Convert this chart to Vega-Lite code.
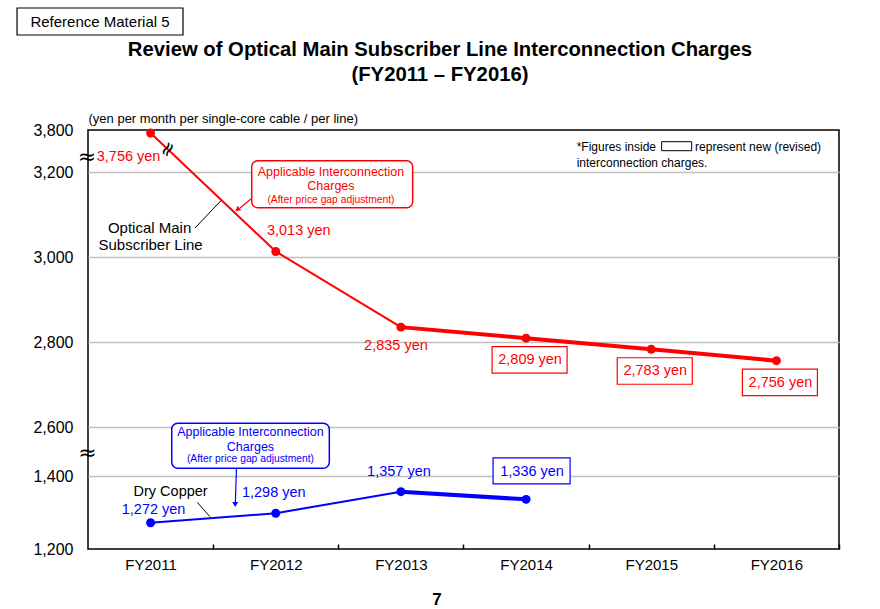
{
  "$schema": "https://vega.github.io/schema/vega-lite/v6.json",
  "width": 751,
  "height": 419,
  "autosize": {"type": "none"},
  "padding": {"left": 88, "top": 130, "right": 41, "bottom": 60},
  "background": "white",
  "config": {"font": "Liberation Sans", "view": {"stroke": "black", "strokeWidth": 1.5}},
  "datasets": {
    "charges": [
      {"series": "Optical Main Subscriber Line", "fy": 2011, "value": 3756, "label": "3,756 yen"},
      {"series": "Optical Main Subscriber Line", "fy": 2012, "value": 3013, "label": "3,013 yen"},
      {"series": "Optical Main Subscriber Line", "fy": 2013, "value": 2835, "label": "2,835 yen"},
      {"series": "Optical Main Subscriber Line", "fy": 2014, "value": 2809, "label": "2,809 yen"},
      {"series": "Optical Main Subscriber Line", "fy": 2015, "value": 2783, "label": "2,783 yen"},
      {"series": "Optical Main Subscriber Line", "fy": 2016, "value": 2756, "label": "2,756 yen"},
      {"series": "Dry Copper", "fy": 2011, "value": 1272, "label": "1,272 yen"},
      {"series": "Dry Copper", "fy": 2012, "value": 1298, "label": "1,298 yen"},
      {"series": "Dry Copper", "fy": 2013, "value": 1357, "label": "1,357 yen"},
      {"series": "Dry Copper", "fy": 2014, "value": 1336, "label": "1,336 yen"}
    ]
  },
  "layer": [
    {
      "data": {"name": "charges"},
      "transform": [{"filter": "datum.fy <= 2013"}],
      "mark": {"type": "line", "strokeWidth": 2},
      "encoding": {
        "x": {
          "field": "fy", "type": "quantitative",
          "scale": {"domain": [2010.5, 2016.5], "nice": false, "zero": false},
          "axis": {
            "values": [2011, 2012, 2013, 2014, 2015, 2016],
            "labelExpr": "'FY' + datum.value",
            "title": null, "tickOffset": 62.58, "labelOffset": -62.58,
            "ticks": true, "tickSize": -5, "tickColor": "black", "tickWidth": 1.5,
            "labelFontSize": 15, "labelColor": "black", "labelPadding": 13,
            "domain": false, "grid": false, "labelFlush": false, "labelOverlap": false, "labelBound": false
          }
        },
        "y": {
          "field": "value", "type": "quantitative",
          "scale": {"type": "linear", "domain": [1200, 1400, 2600, 3200, 3800], "range": [419, 346, 297, 42, 0], "nice": false, "zero": false},
          "axis": {
            "values": [1200, 1400, 2600, 2800, 3000, 3200, 3800],
            "format": ",.0f",
            "title": "(yen per month per single-core cable / per line)",
            "titleAngle": 0, "titleAlign": "left", "titleBaseline": "middle", "titleX": 0, "titleY": -12,
            "titleFontSize": 13, "titleFontWeight": "normal", "titleColor": "black",
            "labelFontSize": 16, "labelColor": "black", "labelPadding": 15, "labelOverlap": false,
            "ticks": false, "domain": false,
            "grid": true, "gridColor": "#c0c0c0", "gridWidth": 1.5,
            "gridOpacity": {"condition": {"test": "datum.value == 1200 || datum.value == 3800", "value": 0}, "value": 1}
          }
        },
        "color": {"field": "series", "type": "nominal", "scale": {"domain": ["Optical Main Subscriber Line", "Dry Copper"], "range": ["#ff0000", "#0000ff"]}, "legend": null}
      }
    },
    {
      "data": {"name": "charges"},
      "transform": [{"filter": "datum.fy >= 2013"}],
      "mark": {"type": "line", "strokeWidth": 4},
      "encoding": {
        "x": {"field": "fy", "type": "quantitative"},
        "y": {"field": "value", "type": "quantitative"},
        "color": {"field": "series", "type": "nominal", "legend": null}
      }
    },
    {
      "data": {"name": "charges"},
      "mark": {"type": "circle", "size": 80, "opacity": 1},
      "encoding": {
        "x": {"field": "fy", "type": "quantitative"},
        "y": {"field": "value", "type": "quantitative"},
        "color": {"field": "series", "type": "nominal", "legend": null}
      }
    },
    {
      "data": {"name": "charges"},
      "transform": [{"filter": "datum.series == 'Optical Main Subscriber Line' && datum.fy >= 2014"}],
      "mark": {"type": "point", "shape": "M-0.68,0.17H0.82V0.70H-0.68Z", "size": 10000, "fill": "white", "fillOpacity": 1, "stroke": "#ff0000", "strokeWidth": 1.2, "opacity": 1},
      "encoding": {"x": {"field": "fy", "type": "quantitative"}, "y": {"field": "value", "type": "quantitative"}}
    },
    {
      "data": {"name": "charges"},
      "transform": [{"filter": "datum.series == 'Dry Copper' && datum.fy == 2014"}],
      "mark": {"type": "point", "shape": "M-0.66,-0.83H0.88V-0.31H-0.66Z", "size": 10000, "fill": "white", "fillOpacity": 1, "stroke": "#0000ff", "strokeWidth": 1.2, "opacity": 1},
      "encoding": {"x": {"field": "fy", "type": "quantitative"}, "y": {"field": "value", "type": "quantitative"}}
    },
    {
      "data": {"name": "charges"},
      "transform": [{"filter": "datum.series == 'Optical Main Subscriber Line' && datum.fy == 2011"}],
      "mark": {"type": "text", "fontSize": 14.5, "color": "#ff0000", "dx": -22, "dy": 24},
      "encoding": {"x": {"field": "fy", "type": "quantitative"}, "y": {"field": "value", "type": "quantitative"}, "text": {"field": "label"}}
    },
    {
      "data": {"name": "charges"},
      "transform": [{"filter": "datum.series == 'Optical Main Subscriber Line' && datum.fy == 2012"}],
      "mark": {"type": "text", "fontSize": 14.5, "color": "#ff0000", "dx": 23, "dy": -20},
      "encoding": {"x": {"field": "fy", "type": "quantitative"}, "y": {"field": "value", "type": "quantitative"}, "text": {"field": "label"}}
    },
    {
      "data": {"name": "charges"},
      "transform": [{"filter": "datum.series == 'Optical Main Subscriber Line' && datum.fy == 2013"}],
      "mark": {"type": "text", "fontSize": 14.5, "color": "#ff0000", "dx": -5, "dy": 19},
      "encoding": {"x": {"field": "fy", "type": "quantitative"}, "y": {"field": "value", "type": "quantitative"}, "text": {"field": "label"}}
    },
    {
      "data": {"name": "charges"},
      "transform": [{"filter": "datum.series == 'Optical Main Subscriber Line' && datum.fy >= 2014"}],
      "mark": {"type": "text", "fontSize": 14.5, "color": "#ff0000", "dx": 4, "dy": 22},
      "encoding": {"x": {"field": "fy", "type": "quantitative"}, "y": {"field": "value", "type": "quantitative"}, "text": {"field": "label"}}
    },
    {
      "data": {"name": "charges"},
      "transform": [{"filter": "datum.series == 'Dry Copper' && datum.fy == 2011"}],
      "mark": {"type": "text", "fontSize": 14.5, "color": "#0000ff", "dx": 3, "dy": -13},
      "encoding": {"x": {"field": "fy", "type": "quantitative"}, "y": {"field": "value", "type": "quantitative"}, "text": {"field": "label"}}
    },
    {
      "data": {"name": "charges"},
      "transform": [{"filter": "datum.series == 'Dry Copper' && (datum.fy == 2012 || datum.fy == 2013)"}],
      "mark": {"type": "text", "fontSize": 14.5, "color": "#0000ff", "dx": -2, "dy": -20},
      "encoding": {"x": {"field": "fy", "type": "quantitative"}, "y": {"field": "value", "type": "quantitative"}, "text": {"field": "label"}}
    },
    {
      "data": {"name": "charges"},
      "transform": [{"filter": "datum.series == 'Dry Copper' && datum.fy == 2014"}],
      "mark": {"type": "text", "fontSize": 14.5, "color": "#0000ff", "dx": 6, "dy": -27},
      "encoding": {"x": {"field": "fy", "type": "quantitative"}, "y": {"field": "value", "type": "quantitative"}, "text": {"field": "label"}}
    },
    {
      "data": {"values": [{}]},
      "mark": {"type": "rect", "fill": "white", "stroke": "black", "strokeWidth": 1.2},
      "encoding": {"x": {"datum": 2009.933}, "x2": {"datum": 2011.259}, "y": {"datum": 5542.9}, "y2": {"datum": 5157.1}}
    },
    {
      "data": {"values": [{}]},
      "mark": {"type": "text", "text": "Reference Material 5", "fontSize": 15, "color": "black", "dy": -108.5},
      "encoding": {"x": {"datum": 2010.596}, "y": {"datum": 3800}}
    },
    {
      "data": {"values": [{}]},
      "mark": {"type": "text", "text": "Review of Optical Main Subscriber Line Interconnection Charges", "fontSize": 20.3, "fontWeight": "bold", "color": "black", "dy": -80},
      "encoding": {"x": {"datum": 2013.312}, "y": {"datum": 3800}}
    },
    {
      "data": {"values": [{}]},
      "mark": {"type": "text", "text": "(FY2011 – FY2016)", "fontSize": 20.3, "fontWeight": "bold", "color": "black", "dy": -55},
      "encoding": {"x": {"datum": 2013.312}, "y": {"datum": 3800}}
    },
    {
      "data": {"values": [{}]},
      "mark": {"type": "text", "text": "7", "fontSize": 17, "fontWeight": "bold", "color": "black", "dy": 51},
      "encoding": {"x": {"datum": 2013.288}, "y": {"datum": 1200}}
    },
    {
      "data": {"values": [{}]},
      "mark": {"type": "text", "text": "*Figures inside", "fontSize": 12, "color": "black", "align": "left", "dy": 16.7},
      "encoding": {"x": {"datum": 2014.404}, "y": {"datum": 3800}}
    },
    {
      "data": {"values": [{}]},
      "mark": {"type": "text", "text": "represent new (revised)", "fontSize": 12, "color": "black", "align": "left", "dy": 16.7},
      "encoding": {"x": {"datum": 2015.35}, "y": {"datum": 3800}}
    },
    {
      "data": {"values": [{}]},
      "mark": {"type": "text", "text": "interconnection charges.", "fontSize": 12, "color": "black", "align": "left", "dy": 33.3},
      "encoding": {"x": {"datum": 2014.404}, "y": {"datum": 3800}}
    },
    {
      "data": {"values": [{}]},
      "mark": {"type": "rect", "fill": "white", "stroke": "black", "strokeWidth": 1},
      "encoding": {"x": {"datum": 2015.083}, "x2": {"datum": 2015.323}, "y": {"datum": 3632.9}, "y2": {"datum": 3504.3}}
    },
    {
      "data": {"values": [{}]},
      "mark": {"type": "rule", "color": "#ff0000", "strokeWidth": 1.2},
      "encoding": {"x": {"datum": 2011.802}, "x2": {"datum": 2011.714}, "y": {"datum": 3136.5}, "y2": {"datum": 3115.3}}
    },
    {
      "data": {"values": [{}]},
      "mark": {"type": "point", "shape": "triangle-up", "size": 35, "filled": true, "color": "#ff0000", "opacity": 1, "angle": 231},
      "encoding": {"x": {"datum": 2011.694}, "y": {"datum": 3111.5}}
    },
    {
      "data": {"values": [{}]},
      "mark": {"type": "rect", "fill": "white", "stroke": "#ff0000", "strokeWidth": 1.5, "cornerRadius": 6},
      "encoding": {"x": {"datum": 2011.808}, "x2": {"datum": 2013.094}, "y": {"datum": 3361.4}, "y2": {"datum": 3116}}
    },
    {
      "data": {"values": [{}]},
      "mark": {"type": "text", "text": "Applicable Interconnection", "fontSize": 12.5, "color": "#ff0000", "dy": -0.3},
      "encoding": {"x": {"datum": 2012.441}, "y": {"datum": 3200}}
    },
    {
      "data": {"values": [{}]},
      "mark": {"type": "text", "text": "Charges", "fontSize": 12.5, "color": "#ff0000", "dy": 14},
      "encoding": {"x": {"datum": 2012.441}, "y": {"datum": 3200}}
    },
    {
      "data": {"values": [{}]},
      "mark": {"type": "text", "text": "(After price gap adjustment)", "fontSize": 10.3, "color": "#ff0000", "dy": 28},
      "encoding": {"x": {"datum": 2012.441}, "y": {"datum": 3200}}
    },
    {
      "data": {"values": [{}]},
      "mark": {"type": "rule", "color": "black", "strokeWidth": 1},
      "encoding": {"x": {"datum": 2011.355}, "x2": {"datum": 2011.563}, "y": {"datum": 3068.2}, "y2": {"datum": 3132.9}}
    },
    {
      "data": {"values": [{}]},
      "mark": {"type": "text", "text": "Optical Main", "fontSize": 15, "color": "black", "dx": -1, "dy": -28.7},
      "encoding": {"x": {"datum": 2011}, "y": {"datum": 3000}}
    },
    {
      "data": {"values": [{}]},
      "mark": {"type": "text", "text": "Subscriber Line", "fontSize": 15, "color": "black", "dx": 0, "dy": -12},
      "encoding": {"x": {"datum": 2011}, "y": {"datum": 3000}}
    },
    {
      "data": {"values": [{}]},
      "mark": {"type": "text", "text": "≈", "fontSize": 22, "font": "DejaVu Sans", "color": "black", "dx": -1, "dy": -15},
      "encoding": {"x": {"datum": 2010.5}, "y": {"datum": 3200}}
    },
    {
      "data": {"values": [{}]},
      "mark": {"type": "text", "text": "≈", "fontSize": 20, "font": "DejaVu Sans", "color": "black", "angle": 300},
      "encoding": {"x": {"datum": 2011.139}, "y": {"datum": 3520}}
    },
    {
      "data": {"values": [{}]},
      "mark": {"type": "text", "text": "≈", "fontSize": 22, "font": "DejaVu Sans", "color": "black", "dx": -0.5, "dy": -23},
      "encoding": {"x": {"datum": 2010.5}, "y": {"datum": 1400}}
    },
    {
      "data": {"values": [{}]},
      "mark": {"type": "rule", "color": "#0000ff", "strokeWidth": 1.2},
      "encoding": {"x": {"datum": 2011.686}, "x2": {"datum": 2011.677}, "y": {"datum": 1588.6}, "y2": {"datum": 1323.3}}
    },
    {
      "data": {"values": [{}]},
      "mark": {"type": "point", "shape": "triangle-down", "size": 35, "filled": true, "color": "#0000ff", "opacity": 1},
      "encoding": {"x": {"datum": 2011.676}, "y": {"datum": 1321.9}}
    },
    {
      "data": {"values": [{}]},
      "mark": {"type": "rect", "fill": "white", "stroke": "#0000ff", "strokeWidth": 1.5, "cornerRadius": 6},
      "encoding": {"x": {"datum": 2011.169}, "x2": {"datum": 2012.428}, "y": {"datum": 2608.7}, "y2": {"datum": 1588.6}}
    },
    {
      "data": {"values": [{}]},
      "mark": {"type": "text", "text": "Applicable Interconnection", "fontSize": 12.5, "color": "#0000ff", "dy": -43.7},
      "encoding": {"x": {"datum": 2011.798}, "y": {"datum": 1400}}
    },
    {
      "data": {"values": [{}]},
      "mark": {"type": "text", "text": "Charges", "fontSize": 12.5, "color": "#0000ff", "dy": -29.3},
      "encoding": {"x": {"datum": 2011.798}, "y": {"datum": 1400}}
    },
    {
      "data": {"values": [{}]},
      "mark": {"type": "text", "text": "(After price gap adjustment)", "fontSize": 10.3, "color": "#0000ff", "dy": -16.7},
      "encoding": {"x": {"datum": 2011.798}, "y": {"datum": 1400}}
    },
    {
      "data": {"values": [{}]},
      "mark": {"type": "text", "text": "Dry Copper", "fontSize": 14.5, "color": "black", "dx": 20, "dy": 16.3},
      "encoding": {"x": {"datum": 2011}, "y": {"datum": 1400}}
    },
    {
      "data": {"values": [{}]},
      "mark": {"type": "rule", "color": "black", "strokeWidth": 1},
      "encoding": {"x": {"datum": 2011.373}, "x2": {"datum": 2011.474}, "y": {"datum": 1327.9}, "y2": {"datum": 1288.5}}
    }
  ]
}
